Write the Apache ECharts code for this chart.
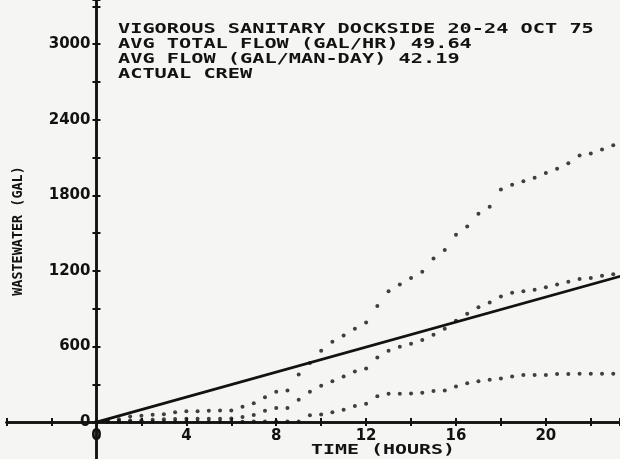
<!DOCTYPE html>
<html>
<head>
<meta charset="utf-8">
<script src="https://cdn.jsdelivr.net/npm/echarts@6/dist/echarts.min.js"></script>
<style>
  html, body { margin: 0; padding: 0; background: #f5f5f3; }
  #chart { width: 620px; height: 459px; }
</style>
</head>
<body>
<div id="chart"></div>
<script>
// Sample times, every half hour
const hours = [0, 0.5, 1, 1.5, 2, 2.5, 3, 3.5, 4, 4.5, 5, 5.5, 6, 6.5, 7,
  7.5, 8, 8.5, 9, 9.5, 10, 10.5, 11, 11.5, 12, 12.5, 13, 13.5, 14, 14.5,
  15, 15.5, 16, 16.5, 17, 17.5, 18, 18.5, 19, 19.5, 20, 20.5, 21, 21.5,
  22, 22.5, 23];

// Cumulative wastewater (gal), three dotted traces
const upperTrace = [0, 10, 22, 45, 50, 58, 62, 79, 87, 87, 90, 92, 92, 122, 150,
  198, 240, 251, 378, 470, 566, 637, 688, 741, 791, 921, 1039, 1092, 1143, 1193,
  1298, 1366, 1487, 1553, 1653, 1709, 1846, 1883, 1912, 1939, 1976, 2010, 2055, 2116,
  2132, 2164, 2198];
const middleTrace = [0, 4, 8, 12, 14, 18, 22, 24, 26, 26, 26, 26, 28, 40, 56,
  90, 111, 111, 177, 240, 288, 325, 362, 402, 426, 513, 566, 599, 622, 652,
  694, 740, 805, 860, 912, 949, 997, 1026, 1039, 1050, 1071, 1092, 1113, 1135,
  1143, 1161, 1174];
const lowerTrace = [0, 0, 0, 1, 2, 2, 2, 3, 3, 3, 3, 3, 3, 3, 4,
  5, 5, 5, 5, 55, 61, 79, 98, 127, 145, 206, 225, 225, 226, 233,
  246, 251, 283, 309, 325, 336, 346, 362, 373, 373, 373, 381, 381, 383,
  383, 383, 383];

// Average total flow line: 49.64 gal/hr
const avgLineHours = [0, 24];
const avgLineValues = [0, 1191.4];

const yTickValues = [0, 600, 1200, 1800, 2400, 3000];
const xTickValues = [0, 4, 8, 12, 16, 20];

const headerLines = [
  'VIGOROUS SANITARY DOCKSIDE 20-24 OCT 75',
  'AVG TOTAL FLOW (GAL/HR) 49.64',
  'AVG FLOW (GAL/MAN-DAY) 42.19',
  'ACTUAL CREW'
];
const xTitle = 'TIME (HOURS)';
const yTitle = 'WASTEWATER (GAL)';

const INK = '#121212';
const MONO = '"DejaVu Sans Mono", "Liberation Mono", monospace';

// Plot frame: x from -4 h, y from -300 gal; the axes cross at the origin
const X_MIN = -4, X_MAX = 23.3, Y_MIN = -300, Y_MAX = 3350;
const GRID_LEFT = 6.6, GRID_TOP = 0, GRID_H = 459.9;
const PX_PER_HR = (620 - GRID_LEFT) / (X_MAX - X_MIN);
const PX_PER_GAL = GRID_H / (Y_MAX - Y_MIN);
const originX = GRID_LEFT - X_MIN * PX_PER_HR;
const originY = GRID_TOP + Y_MAX * PX_PER_GAL;

// Plotter lettering is wide: stretch a monospace face to the wanted pitch
function pitchScale(fontSize, pitch) {
  const c = document.createElement('canvas').getContext('2d');
  c.font = 'bold ' + fontSize + 'px ' + MONO;
  return pitch / c.measureText('M').width;
}

const headerSize = 14;
const headerScale = pitchScale(headerSize, 12.2);
const headerTexts = headerLines.map((t, i) => ({
  type: 'text',
  x: 118,
  y: 29.8 + i * 14.8,
  scaleX: headerScale,
  silent: true,
  style: {
    text: t,
    font: 'bold ' + headerSize + 'px ' + MONO,
    fill: INK,
    verticalAlign: 'middle',
    align: 'left'
  }
}));

const pairs = (xs, ys) => xs.map((x, i) => [x, ys[i]]);

const tickFont = { fontFamily: '"DejaVu Sans"', fontWeight: 'bold', fontSize: 15, color: INK };

// Tick labels sit next to the crossing axis lines, not at the frame edges
const xLabelMargin = (originY + 7) - (GRID_TOP + GRID_H);
const yLabelMargin = -(originX - GRID_LEFT) + 6;

function baseX(inside) {
  return {
    type: 'value', min: X_MIN, max: X_MAX, interval: 2, position: 'bottom',
    axisLine: { show: true, onZero: true, lineStyle: { color: INK, width: 2.5 } },
    axisTick: { show: true, inside: inside, length: 4, lineStyle: { color: INK, width: 2 } },
    axisLabel: inside ? { show: false } : Object.assign({
      margin: xLabelMargin,
      formatter: v => (xTickValues.indexOf(v) >= 0 ? String(v) : '')
    }, tickFont),
    splitLine: { show: false }
  };
}
function baseY(inside) {
  return {
    type: 'value', min: Y_MIN, max: Y_MAX, interval: 300, position: 'left',
    axisLine: { show: true, onZero: true, lineStyle: { color: INK, width: 2.5 } },
    axisTick: { show: true, inside: inside, length: 4, lineStyle: { color: INK, width: 2 } },
    axisLabel: inside ? { show: false } : Object.assign({
      margin: yLabelMargin,
      formatter: v => (yTickValues.indexOf(v) >= 0 ? String(v) : '')
    }, tickFont),
    splitLine: { show: false }
  };
}

const dotStyle = { color: INK };

const chart = echarts.init(document.getElementById('chart'), null, { renderer: 'canvas' });
chart.setOption({
  animation: false,
  backgroundColor: '#f5f5f3',
  grid: { left: GRID_LEFT, right: 0, top: GRID_TOP, height: GRID_H, containLabel: false, outerBoundsMode: 'none' },
  xAxis: [baseX(false), baseX(true)],
  yAxis: [baseY(false), baseY(true)],
  series: [
    {
      type: 'line', data: pairs(avgLineHours, avgLineValues), showSymbol: false,
      lineStyle: { color: INK, width: 2.8 }, clip: true, z: 2
    },
    { type: 'scatter', data: pairs(hours, upperTrace), symbol: 'circle', symbolSize: 4, itemStyle: dotStyle, z: 3 },
    { type: 'scatter', data: pairs(hours, middleTrace), symbol: 'circle', symbolSize: 4, itemStyle: dotStyle, z: 3 },
    { type: 'scatter', data: pairs(hours, lowerTrace), symbol: 'circle', symbolSize: 4, itemStyle: dotStyle, z: 3 }
  ],
  graphic: headerTexts.concat([
    {
      type: 'text', x: 383, y: 450, scaleX: pitchScale(14, 12.0), silent: true,
      style: { text: xTitle, font: 'bold 14px ' + MONO, fill: INK, align: 'center', verticalAlign: 'middle' }
    },
    {
      type: 'text', x: 18, y: 231, rotation: Math.PI / 2, scaleX: pitchScale(14, 8.1), silent: true,
      style: { text: yTitle, font: 'bold 14px ' + MONO, fill: INK, align: 'center', verticalAlign: 'middle' }
    }
  ])
});
</script>
</body>
</html>
